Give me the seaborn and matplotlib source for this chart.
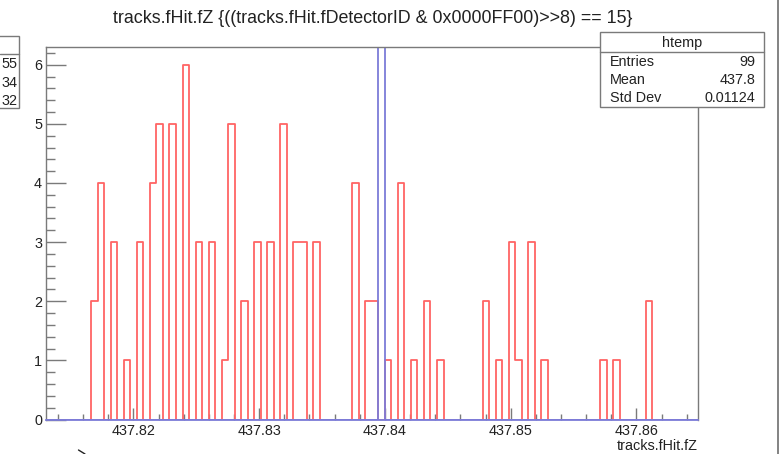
import numpy as np
import pandas as pd
import matplotlib
matplotlib.use("Agg")
import matplotlib.pyplot as plt
import matplotlib.ticker as mticker
from matplotlib.patches import Rectangle
from matplotlib.lines import Line2D
import seaborn as sns

sns.set_style("white")
plt.rcParams["font.family"] = ["Liberation Sans", "DejaVu Sans"]

# ---- data ----
title = "tracks.fHit.fZ {((tracks.fHit.fDetectorID & 0x0000FF00)>>8) == 15}"
x_label = "tracks.fHit.fZ"
x_min, x_max, n_bins = 437.81301, 437.86489, 100

# red histogram: counts per bin (100 bins)
red_counts = [
    0, 0, 0, 0, 0, 0, 0, 2, 4, 0,
    3, 0, 1, 0, 3, 0, 4, 5, 0, 5,
    0, 6, 0, 3, 0, 3, 0, 1, 5, 0,
    2, 0, 3, 0, 3, 0, 5, 0, 3, 3,
    0, 3, 0, 0, 0, 0, 0, 4, 0, 2,
    2, 0, 1, 0, 4, 0, 1, 0, 2, 0,
    1, 0, 0, 0, 0, 0, 0, 2, 0, 1,
    0, 3, 1, 0, 3, 0, 1, 0, 0, 0,
    0, 0, 0, 0, 0, 1, 0, 1, 0, 0,
    0, 0, 2, 0, 0, 0, 0, 0, 0, 0,
]
# blue histogram: a single bin going off the top of the frame
blue_counts = [
    0, 0, 0, 0, 0, 0, 0, 0, 0, 0,
    0, 0, 0, 0, 0, 0, 0, 0, 0, 0,
    0, 0, 0, 0, 0, 0, 0, 0, 0, 0,
    0, 0, 0, 0, 0, 0, 0, 0, 0, 0,
    0, 0, 0, 0, 0, 0, 0, 0, 0, 0,
    0, 20, 0, 0, 0, 0, 0, 0, 0, 0,
    0, 0, 0, 0, 0, 0, 0, 0, 0, 0,
    0, 0, 0, 0, 0, 0, 0, 0, 0, 0,
    0, 0, 0, 0, 0, 0, 0, 0, 0, 0,
    0, 0, 0, 0, 0, 0, 0, 0, 0, 0,
]
stat_title = "htemp"
stat_names = ["Entries", "Mean", "Std Dev"]
stat_values = ["99", "437.8", "0.01124"]
other_stat_values = ["55", "34", "32"]

# ---- layout helpers (pixel -> figure fraction) ----
W, H = 780, 454
FS = 10.4
GRAY = "#7a7a7a"
RED = "#ff6464"
BLUE = "#7c7cd8"


def fx(px):
    return px / W


def fy(py):
    return 1 - py / H


fig = plt.figure(figsize=(W / 100, H / 100), dpi=100)
ax = fig.add_axes([fx(45.5), fy(419.5), (698 - 45.5) / W, (419.5 - 47) / H])

edges = np.linspace(x_min, x_max, n_bins + 1)
df = pd.DataFrame({
    "z": (edges[:-1] + edges[1:]) / 2,
    "red": red_counts,
    "blue": blue_counts,
})

sns.histplot(data=df, x="z", weights="red", bins=edges.tolist(), element="step",
             fill=False, color=RED, linewidth=1.3, ax=ax)
sns.histplot(data=df, x="z", weights="blue", bins=edges.tolist(), element="step",
             fill=False, color=BLUE, linewidth=1.3, ax=ax)

ax.set_xlim(x_min, x_max)
ax.set_ylim(0, 6.3)
ax.set_xlabel("")
ax.set_ylabel("")

for side in ["left", "right", "top"]:
    ax.spines[side].set_color(GRAY)
    ax.spines[side].set_linewidth(1.0)
# the blue histogram's zero level forms the bottom edge of the frame
ax.spines["bottom"].set_color(BLUE)
ax.spines["bottom"].set_linewidth(1.3)

ax.xaxis.set_major_locator(mticker.MultipleLocator(0.01))
ax.xaxis.set_minor_locator(mticker.MultipleLocator(0.002))
ax.xaxis.set_major_formatter(mticker.FormatStrFormatter("%.2f"))
ax.yaxis.set_major_locator(mticker.MultipleLocator(1))
ax.yaxis.set_minor_locator(mticker.MultipleLocator(0.2))

ax.tick_params(axis="x", which="both", bottom=True, top=False)
ax.tick_params(axis="y", which="both", left=True, right=False)
ax.tick_params(axis="x", which="major", direction="in", length=8.6, width=1,
               color=GRAY, labelsize=FS, pad=3, labelcolor="#222222")
ax.tick_params(axis="x", which="minor", direction="in", length=4.1, width=1, color=GRAY)
ax.tick_params(axis="y", which="major", direction="in", length=14.4, width=1,
               color=GRAY, labelsize=FS, pad=2.5, labelcolor="#222222")
ax.tick_params(axis="y", which="minor", direction="in", length=6.8, width=1, color=GRAY)

# title and axis label
fig.text(fx(373), fy(22.7), title, ha="center", va="baseline", fontsize=12.9, color="#222222")
fig.text(fx(698), fy(450), x_label, ha="right", va="baseline", fontsize=FS, color="#222222")

# stats box
box = Rectangle((fx(600), fy(106.7)), fx(764) - fx(600), fy(32.3) - fy(106.7),
                transform=fig.transFigure, facecolor="white", edgecolor=GRAY,
                linewidth=1.0, zorder=5)
fig.add_artist(box)
fig.add_artist(Line2D([fx(600), fx(764)], [fy(51.7), fy(51.7)], color=GRAY,
                      linewidth=1.0, transform=fig.transFigure, zorder=6))
fig.text(fx(682), fy(46.7), stat_title, ha="center", va="baseline", fontsize=FS,
         color="#222222", zorder=7)
for i, (name, val) in enumerate(zip(stat_names, stat_values)):
    yb = 65.7 + i * 18.3
    fig.text(fx(610), fy(yb), name, ha="left", va="baseline", fontsize=FS,
             color="#222222", zorder=7)
    fig.text(fx(755), fy(yb), val, ha="right", va="baseline", fontsize=FS,
             color="#222222", zorder=7)

# neighbouring pad's stats box at the left edge
left_box = Rectangle((fx(-20), fy(108)), fx(19) - fx(-20), fy(35.7) - fy(108),
                     transform=fig.transFigure, facecolor="white", edgecolor=GRAY,
                     linewidth=1.0, zorder=5)
fig.add_artist(left_box)
fig.add_artist(Line2D([fx(0), fx(19)], [fy(54), fy(54)], color=GRAY,
                      linewidth=1.0, transform=fig.transFigure, zorder=6))
for i, val in enumerate(other_stat_values):
    fig.text(fx(17), fy(68.3 + i * 18.3), val, ha="right", va="baseline",
             fontsize=FS, color="#222222", zorder=7)

# window edge line and cursor mark
fig.add_artist(Line2D([fx(778), fx(778)], [0, 1], color="#6e6e6e", linewidth=1.2,
                      transform=fig.transFigure))
fig.add_artist(Line2D([fx(78.5), fx(85)], [fy(450), fy(454)], color="#222222",
                      linewidth=1.0, transform=fig.transFigure))

fig.savefig("out.png", dpi=100)
